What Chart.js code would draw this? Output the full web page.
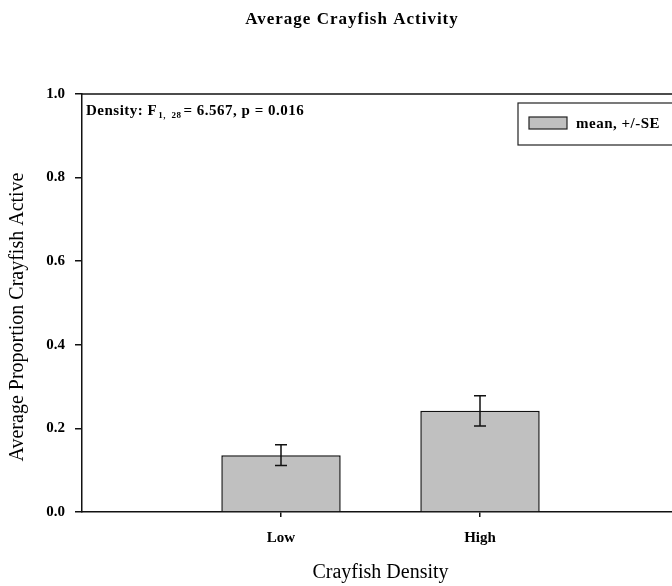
<!DOCTYPE html>
<html>
<head>
<meta charset="utf-8">
<script src="https://cdn.jsdelivr.net/npm/chart.js@4/dist/chart.umd.min.js"></script>
<style>
  html, body { margin: 0; padding: 0; background: #fff; overflow: hidden; }
  #wrap { width: 690px; height: 586px; }
</style>
</head>
<body>
<div id="wrap"><canvas id="chart_crayfish" width="690" height="586"></canvas></div>
<script>
const categories = ["Low", "High"];
const meanActive = [0.136, 0.242];
const seActive = [0.025, 0.036];
const yTicks = [0.0, 0.2, 0.4, 0.6, 0.8, 1.0];

const serif = "'Liberation Serif', 'Times New Roman', serif";

// error bars + frame + texts that chart.js does not place the way the figure does
const extrasPlugin = {
    id: "extras",
    afterDatasetsDraw(chart) {
        const ctx = chart.ctx;
        const area = chart.chartArea;
        const xs = chart.scales.x;
        const ys = chart.scales.y;

        ctx.save();
        ctx.strokeStyle = "#111";
        ctx.lineWidth = 1.5;
        categories.forEach((c, i) => {
            const px = xs.getPixelForValue(i + 1);
            const top = ys.getPixelForValue(meanActive[i] + seActive[i]);
            const bot = ys.getPixelForValue(meanActive[i] - seActive[i]);
            ctx.beginPath();
            ctx.moveTo(px, top);
            ctx.lineTo(px, bot);
            ctx.moveTo(px - 6, top);
            ctx.lineTo(px + 6, top);
            ctx.moveTo(px - 6, bot);
            ctx.lineTo(px + 6, bot);
            ctx.stroke();
        });

        // top frame line
        ctx.beginPath();
        ctx.moveTo(area.left, area.top);
        ctx.lineTo(area.right, area.top);
        ctx.stroke();

        // stats annotation
        ctx.fillStyle = "#000";
        ctx.textBaseline = "alphabetic";
        ctx.textAlign = "left";
        let x = area.left + 4;
        const base = area.top + 21;
        ctx.letterSpacing = "0.5px";
        ctx.font = "bold 15px " + serif;
        ctx.fillText("Density: F", x, base);
        x += ctx.measureText("Density: F").width;
        ctx.font = "bold 9px " + serif;
        ctx.fillText("1,  28", x + 1, base + 3);
        x += ctx.measureText("1,  28").width + 3;
        ctx.font = "bold 15px " + serif;
        ctx.fillText("= 6.567, p = 0.016", x, base);

        // legend box
        const ds = chart.data.datasets[0];
        ctx.strokeStyle = "#222";
        ctx.lineWidth = 1.2;
        ctx.strokeRect(518, 103, 200, 42);
        ctx.fillStyle = ds.backgroundColor;
        ctx.fillRect(529, 117, 38, 12);
        ctx.strokeRect(529, 117, 38, 12);
        ctx.fillStyle = "#000";
        ctx.font = "bold 15px " + serif;
        ctx.textBaseline = "middle";
        ctx.fillText(ds.label, 576, 124);

        // chart title
        ctx.font = "bold 17px " + serif;
        ctx.textAlign = "center";
        ctx.letterSpacing = "1px";
        ctx.fillText("Average Crayfish Activity", 352, 20);
        ctx.letterSpacing = "0px";

        // y axis title
        ctx.translate(18, 317);
        ctx.rotate(-Math.PI / 2);
        ctx.font = "20px " + serif;
        ctx.fillText("Average Proportion Crayfish Active", 0, 0);
        ctx.restore();
    },
};

const data = {
    datasets: [
        {
            label: "mean, +/-SE",
            data: categories.map((c, i) => ({ x: i + 1, y: meanActive[i] })),
            backgroundColor: "#c0c0c0",
            borderColor: "#111",
            borderWidth: 1.5,
            categoryPercentage: 1,
            barPercentage: 0.6,
        },
    ],
};

const config = {
    type: "bar",
    data: data,
    plugins: [extrasPlugin],
    options: {
        responsive: false,
        animation: false,
        layout: { padding: { top: 94, right: 11, left: 0, bottom: 0 } },
        plugins: {
            legend: { display: false },
            title: { display: false },
            tooltip: { enabled: false },
        },
        scales: {
            x: {
                type: "linear",
                min: 0,
                max: 3,
                offset: false,
                afterBuildTicks: (scale) => {
                    scale.ticks = categories.map((c, i) => ({ value: i + 1 }));
                },
                afterFit: (scale) => { scale.height = 74; },
                ticks: {
                    callback: (v) => categories[v - 1],
                    color: "#000",
                    font: { family: serif, size: 15, weight: "bold" },
                    padding: 12,
                    maxRotation: 0,
                },
                grid: {
                    offset: false,
                    drawOnChartArea: false,
                    drawTicks: true,
                    tickLength: 5,
                    color: "#111",
                    lineWidth: 1.5,
                },
                border: { display: true, color: "#111", width: 1.5 },
                title: {
                    display: true,
                    text: "Crayfish Density",
                    color: "#000",
                    font: { family: serif, size: 20 },
                    padding: { top: 8, bottom: 1 },
                },
            },
            y: {
                min: 0,
                max: 1,
                afterBuildTicks: (scale) => {
                    scale.ticks = yTicks.map((v) => ({ value: v }));
                },
                afterFit: (scale) => { scale.width = 82; },
                ticks: {
                    callback: (v) => v.toFixed(1),
                    color: "#000",
                    font: { family: serif, size: 15, weight: "bold" },
                    padding: 10,
                },
                grid: {
                    drawOnChartArea: false,
                    drawTicks: true,
                    tickLength: 7,
                    color: "#111",
                    lineWidth: 1.5,
                },
                border: { display: true, color: "#111", width: 1.5 },
            },
        },
    },
};

const ctxCray = document.getElementById("chart_crayfish");
const crayChart = new Chart(ctxCray, config);
</script>
</body>
</html>
